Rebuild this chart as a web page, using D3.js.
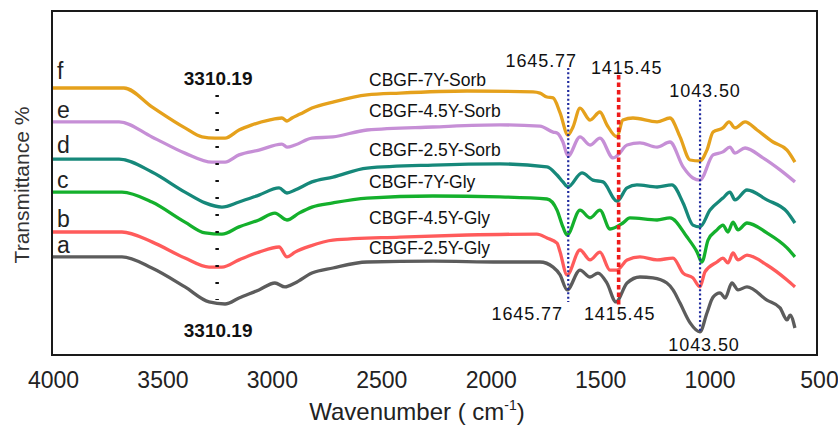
<!DOCTYPE html>
<html lang="en">
<head>
  <meta charset="UTF-8" />
  <title>FTIR spectra</title>
  <script src="https://d3js.org/d3.v7.min.js"></script>
  <style>
    body {
      margin: 0;
      background: #fff;
      font-family: 'Liberation Sans', Arial, sans-serif;
    }
    svg { display: block; }
  </style>
</head>
<body>
  <svg id="chart" width="838" height="431"></svg>

  <script>
    // curve letters and sample names, top curve first
    const letters = ["f", "e", "d", "c", "b", "a"];
    const samples = ["CBGF-7Y-Sorb", "CBGF-4.5Y-Sorb", "CBGF-2.5Y-Sorb",
                     "CBGF-7Y-Gly", "CBGF-4.5Y-Gly", "CBGF-2.5Y-Gly"];
    const xTicks = [4000, 3500, 3000, 2500, 2000, 1500, 1000, 500];
    const ohLabel = "3310.19";
    const ohMark = {wn: 3250, top: 86.7, bottom: 18.3};
    // peak markers: wavenumber, top and bottom of the guide line (transmittance units)
    const peaks = [
      {wn: 1645.77, label: "1645.77", top: 95.7, bottom: 17.7},
      {wn: 1415.45, label: "1415.45", top: 93.3, bottom: 16.7},
      {wn: 1043.50, label: "1043.50", top: 85.0, bottom: 7.3}
    ];

    // spectra as [wavenumber, transmittance] (stacked, arbitrary offset)
    const specF = [[4000,89.0],[3676,89.0],[3548,82.7],[3397,75.7],[3319,72.7],[3260,72.3],[3214,72.3],[3150,75.0],[3091,76.7],[3013,78.3],[2954,79.0],[2931,78.0],[2908,79.0],[2871,80.3],[2817,82.3],[2721,84.3],[2565,86.7],[2415,87.3],[2108,88.0],[1807,87.7],[1775,87.3],[1743,86.0],[1715,85.7],[1683,80.7],[1647,73.3],[1624,76.0],[1592,82.3],[1546,78.3],[1501,81.0],[1469,76.7],[1423,72.7],[1396,78.3],[1350,79.0],[1240,77.7],[1181,79.0],[1135,72.7],[1089,65.0],[1044,64.7],[1012,68.3],[984,74.3],[939,75.7],[911,77.7],[884,75.7],[838,77.7],[783,75.0],[710,71.0],[646,68.3],[610,64.3]];
    const specE = [[4000,77.7],[3698,77.7],[3548,72.7],[3397,67.3],[3273,64.3],[3214,64.3],[3150,66.7],[3059,68.3],[2954,70.3],[2931,69.3],[2894,70.0],[2817,72.3],[2721,72.7],[2565,75.0],[2264,76.0],[1958,76.7],[1775,76.3],[1715,74.3],[1697,74.0],[1670,71.0],[1647,66.3],[1592,72.7],[1546,70.0],[1501,72.3],[1441,65.7],[1418,66.7],[1377,70.0],[1318,70.7],[1240,69.3],[1181,71.0],[1121,62.7],[1076,59.0],[1044,58.3],[984,66.7],[939,67.7],[907,69.3],[884,67.3],[838,69.0],[756,65.7],[678,61.7],[610,57.7]];
    const specD = [[4000,65.3],[3698,65.3],[3548,61.0],[3397,54.3],[3305,50.7],[3228,49.3],[3150,51.0],[3059,53.3],[2967,55.7],[2931,54.0],[2894,55.0],[2817,57.7],[2721,59.3],[2565,62.3],[2264,63.3],[1958,63.7],[1743,62.7],[1697,60.0],[1670,57.7],[1647,56.0],[1583,60.7],[1533,58.3],[1487,57.7],[1423,51.3],[1377,55.7],[1332,56.7],[1240,56.0],[1172,56.7],[1121,50.7],[1076,43.3],[1044,42.7],[998,48.3],[939,52.3],[907,54.3],[884,51.7],[829,55.0],[738,51.7],[646,47.7],[610,44.0]];
    const specC = [[4000,54.3],[3685,54.3],[3548,51.0],[3397,44.3],[3305,40.7],[3228,40.3],[3150,42.7],[3059,45.0],[2986,47.3],[2931,45.0],[2876,47.3],[2817,49.3],[2721,50.7],[2565,52.3],[2264,53.0],[1958,52.7],[1743,52.0],[1697,48.3],[1670,42.7],[1651,40.0],[1592,48.3],[1546,45.7],[1501,48.3],[1455,42.0],[1396,44.0],[1364,45.7],[1240,45.0],[1181,45.7],[1103,39.3],[1057,34.3],[1035,31.0],[1007,38.3],[966,41.7],[939,43.3],[916,41.0],[893,44.3],[870,41.7],[829,44.0],[738,40.7],[646,35.7],[610,32.7]];
    const specB = [[4000,41.0],[3685,41.0],[3548,37.7],[3397,32.3],[3287,29.3],[3228,29.3],[3150,31.7],[3059,34.3],[2967,36.0],[2931,32.7],[2894,34.3],[2826,36.3],[2721,38.3],[2415,39.3],[2108,40.0],[1789,40.3],[1743,39.0],[1697,37.3],[1683,34.3],[1651,26.7],[1592,35.0],[1546,31.7],[1501,34.3],[1455,28.3],[1423,28.3],[1377,31.7],[1318,32.7],[1240,31.7],[1167,32.3],[1121,27.3],[1076,25.7],[1044,22.7],[1021,27.7],[966,31.0],[939,32.3],[916,30.7],[893,34.0],[870,31.7],[829,33.3],[738,30.0],[646,25.0],[610,22.7]];
    const specA = [[4000,32.7],[3685,32.7],[3548,29.0],[3397,22.7],[3287,17.7],[3214,17.0],[3150,19.0],[3059,21.7],[2986,24.0],[2940,22.7],[2894,24.0],[2817,27.3],[2721,29.0],[2565,31.0],[2264,31.3],[1958,31.0],[1775,31.0],[1715,29.3],[1683,26.7],[1651,21.7],[1592,28.3],[1546,26.0],[1510,27.3],[1469,24.0],[1428,17.7],[1377,24.0],[1318,26.0],[1259,25.7],[1195,24.0],[1167,21.7],[1135,17.3],[1089,10.7],[1044,7.7],[1012,14.0],[984,19.3],[952,20.7],[929,19.0],[898,24.0],[870,21.7],[829,22.7],[738,18.3],[678,15.7],[646,11.7],[632,13.3],[610,9.0]];

    const spectra = [specF, specE, specD, specC, specB, specA];
    const colors = ["#e5a11c", "#c68fd6", "#16887a", "#14b02c", "#ff5b5b", "#5c5c5c"];
    const letterDy = [-9, -4, -6, -4, -5, -4];
    const labelWn = 2556;

    const svg = d3.select("#chart");
    const font = "'Liberation Sans', Arial, sans-serif";

    const x = d3.scaleLinear().domain([4000, 500]).range([53, 819]);
    const y = d3.scaleLinear().domain([0, 115]).range([355, 10]);

    // frame
    svg.append("rect")
      .attr("x", 52).attr("y", 11)
      .attr("width", 765).attr("height", 344)
      .attr("fill", "none")
      .attr("stroke", "#1a1a1a")
      .attr("stroke-width", 2);

    // x axis labels only
    svg.append("g")
      .attr("transform", "translate(0,355)")
      .call(d3.axisBottom(x).tickValues(xTicks).tickSize(0).tickPadding(17).tickFormat(d3.format("d")))
      .call(g => g.select(".domain").remove())
      .attr("font-family", font)
      .selectAll("text")
      .attr("font-size", 23)
      .attr("fill", "#222");

    svg.append("text")
      .attr("x", 417).attr("y", 420)
      .attr("text-anchor", "middle")
      .attr("font-family", font)
      .attr("font-size", 24)
      .attr("fill", "#222")
      .call(t => {
        t.append("tspan").text("Wavenumber ( cm");
        t.append("tspan").attr("font-size", 14).attr("dy", -10).text("-1");
        t.append("tspan").attr("dy", 10).text(")");
      });

    svg.append("text")
      .attr("transform", "translate(22,185) rotate(-90)")
      .attr("text-anchor", "middle")
      .attr("dy", "0.35em")
      .attr("font-family", font)
      .attr("font-size", 21)
      .attr("fill", "#333")
      .text("Transmittance %");

    // spectra
    const line = d3.line()
      .x(d => x(d[0]))
      .y(d => y(d[1]))
      .curve(d3.curveMonotoneX);

    for (let i = spectra.length - 1; i >= 0; i--) {
      svg.append("path")
        .datum(spectra[i])
        .attr("fill", "none")
        .attr("stroke", colors[i])
        .attr("stroke-width", 3.3)
        .attr("stroke-linejoin", "round")
        .attr("d", line);
    }

    // curve letters and sample names
    spectra.forEach((s, i) => {
      svg.append("text")
        .attr("x", 57)
        .attr("y", y(s[0][1]) + letterDy[i])
        .attr("font-family", font)
        .attr("font-size", 23)
        .attr("fill", "#222")
        .text(letters[i]);
    });

    const nameBase = [86, 117, 156, 188, 224, 254];
    samples.forEach((name, i) => {
      svg.append("text")
        .attr("x", x(labelWn))
        .attr("y", nameBase[i])
        .attr("font-family", font)
        .attr("font-size", 17.5)
        .attr("fill", "#111")
        .text(name);
    });

    // O-H band marker (dashes)
    svg.append("line")
      .attr("x1", x(ohMark.wn)).attr("x2", x(ohMark.wn))
      .attr("y1", y(ohMark.top)).attr("y2", y(ohMark.bottom))
      .attr("stroke", "#111")
      .attr("stroke-width", 3.5)
      .attr("stroke-dasharray", "2.2,14.8");

    [[y(ohMark.top) - 10], [y(ohMark.bottom) + 37]].forEach(([yy]) => {
      svg.append("text")
        .attr("x", x(ohMark.wn) + 1)
        .attr("y", yy)
        .attr("text-anchor", "middle")
        .attr("font-family", font)
        .attr("font-size", 19)
        .attr("font-weight", "bold")
        .attr("fill", "#111")
        .text(ohLabel);
    });

    // peak guide lines
    const lineStyle = [
      {stroke: "#1f2a9e", width: 2.2, dash: "2,2.4"},
      {stroke: "#ee1b1b", width: 3.6, dash: "4.5,3"},
      {stroke: "#1f2a9e", width: 2.2, dash: "2,2.4"}
    ];
    const topOff = [[-27, -1], [8, -1], [5, -3]];
    const botOff = [[-41, 18], [1, 15], [4, 18]];

    peaks.forEach((p, i) => {
      svg.append("line")
        .attr("x1", x(p.wn)).attr("x2", x(p.wn))
        .attr("y1", y(p.top)).attr("y2", y(p.bottom))
        .attr("stroke", lineStyle[i].stroke)
        .attr("stroke-width", lineStyle[i].width)
        .attr("stroke-dasharray", lineStyle[i].dash);

      [[topOff[i], y(p.top)], [botOff[i], y(p.bottom)]].forEach(([off, yy]) => {
        svg.append("text")
          .attr("x", x(p.wn) + off[0])
          .attr("y", yy + off[1])
          .attr("text-anchor", "middle")
          .attr("font-family", font)
          .attr("font-size", 18)
          .attr("letter-spacing", 0.9)
          .attr("fill", "#111")
          .text(p.label);
      });
    });
  </script>
</body>
</html>
